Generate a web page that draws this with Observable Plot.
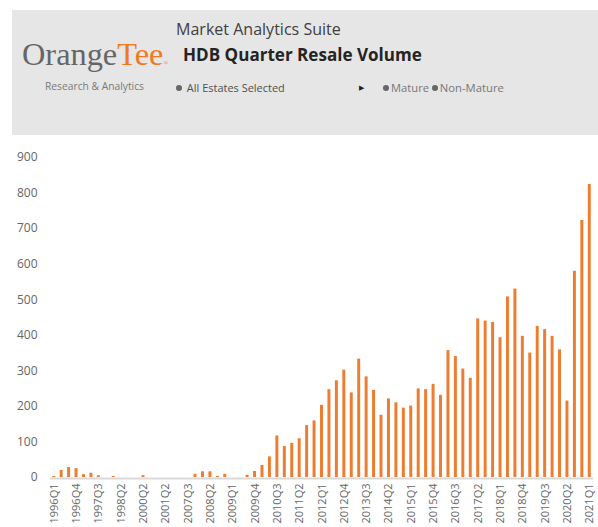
<!DOCTYPE html>
<html>
<head>
<meta charset="utf-8">
<script src="https://cdn.jsdelivr.net/npm/d3@7"></script>
<script src="https://cdn.jsdelivr.net/npm/@observablehq/plot@0.6"></script>
<style>
  html, body { margin: 0; padding: 0; background: #fff; }
  body { width: 598px; height: 527px; overflow: hidden; position: relative; font-family: "Open Sans", sans-serif; }
  #header { position: absolute; left: 12px; top: 10px; width: 586px; height: 125px; background: #e6e6e6; }
  .t { position: absolute; white-space: nowrap; line-height: 1; }
  #logo { left: 22px; top: 38px; font-family: "Liberation Serif", "DejaVu Serif", serif; font-size: 33px; color: #666; }
  #logo .tee { color: #f07a22; }
  #logo .reg { font-size: 6px; color: #f07a22; }
  #research { left: 45px; top: 81px; font-size: 10.5px; color: #7a7a7a; }
  #suite { left: 176px; top: 21px; font-size: 16px; color: #404040; }
  #title { left: 183px; top: 46px; font-size: 17px; font-weight: bold; color: #252423; }
  #estates { left: 176px; top: 82px; font-size: 11px; color: #505050; }
  #arrow { left: 359px; top: 84px; font-size: 7px; color: #222; }
  #mature { left: 383px; top: 82px; font-size: 11px; color: #777; }
  .dot { display: inline-block; width: 6px; height: 6px; border-radius: 50%; background: #666; vertical-align: 1px; margin-right: 2px; }
  #chart { position: absolute; left: 0; top: 140px; }
</style>
</head>
<body>
<div id="header"></div>
<div class="t fit" id="logo" data-w="146">Orange<span class="tee">Tee</span><span class="reg">®</span></div>
<div class="t fit" id="research" data-w="99">Research &amp; Analytics</div>
<div class="t fit" id="suite" data-w="165">Market Analytics Suite</div>
<div class="t fit" id="title" data-w="239">HDB Quarter Resale Volume</div>
<div class="t" id="estates"><span class="dot"></span>&nbsp;<span class="fit" data-w="98">All Estates Selected</span></div>
<div class="t" id="arrow">&#9654;</div>
<div class="t" id="mature"><span class="dot"></span><span class="fit" data-w="38">Mature</span>&nbsp;<span class="dot"></span><span class="fit" data-w="64">Non-Mature</span></div>
<div id="chart"></div>
<script>
const quarters = [
  "1996Q1","1996Q2","1996Q3","1996Q4","1997Q1","1997Q2","1997Q3","1997Q4","1998Q1","1998Q2",
  "1998Q3","1999Q2","2000Q2","2000Q3","2000Q4","2001Q2","2003Q1","2005Q2","2007Q3","2007Q4",
  "2008Q1","2008Q2","2008Q3","2008Q4","2009Q1","2009Q2","2009Q3","2009Q4","2010Q1","2010Q2",
  "2010Q3","2010Q4","2011Q1","2011Q2","2011Q3","2011Q4","2012Q1","2012Q2","2012Q3","2012Q4",
  "2013Q1","2013Q2","2013Q3","2013Q4","2014Q1","2014Q2","2014Q3","2014Q4","2015Q1","2015Q2",
  "2015Q3","2015Q4","2016Q1","2016Q2","2016Q3","2016Q4","2017Q1","2017Q2","2017Q3","2017Q4",
  "2018Q1","2018Q2","2018Q3","2018Q4","2019Q1","2019Q2","2019Q3","2019Q4","2020Q1","2020Q2",
  "2020Q3","2020Q4","2021Q1"
];
const volumes = [
  3, 20, 28, 25, 8, 12, 5, 0, 3, 0,
  0, 0, 5, 0, 0, 0, 0, 0, 0, 9,
  16, 16, 3, 9, 0, 0, 6, 17, 34, 58,
  117, 87, 96, 109, 146, 159, 203, 247, 272, 302,
  238, 333, 283, 245, 175, 221, 210, 195, 201, 249,
  247, 262, 231, 357, 340, 305, 279, 446, 440, 436,
  393, 508, 530, 397, 350, 425, 416, 397, 359, 215,
  580, 723, 824
];
const xTickLabels = ["1996Q1","1996Q4","1997Q3","1998Q2","2000Q2","2001Q2","2007Q3","2008Q2","2009Q1",
  "2009Q4","2010Q3","2011Q2","2012Q1","2012Q4","2013Q3","2014Q2","2015Q1","2015Q4","2016Q3",
  "2017Q2","2018Q1","2018Q4","2019Q3","2020Q2","2021Q1"];
const yTicks = [0, 100, 200, 300, 400, 500, 600, 700, 800, 900];

const data = quarters.map((q, i) => ({q, v: volumes[i]}));

// fit header texts to measured widths
document.querySelectorAll(".fit").forEach(el => {
  const target = +el.dataset.w;
  const fs = parseFloat(getComputedStyle(el).fontSize);
  const w = el.getBoundingClientRect().width;
  if (w > 0) el.style.fontSize = (fs * target / w).toFixed(2) + "px";
});

const chart = Plot.plot({
  width: 598,
  height: 387,
  marginLeft: 50,
  marginRight: 5,
  marginTop: 17,
  marginBottom: 50,
  style: {fontFamily: "'Open Sans', sans-serif", fontSize: "12px", color: "#666", background: "transparent"},
  x: {domain: quarters, paddingInner: 0.6, paddingOuter: 0.3},
  y: {domain: [0, 900]},
  marks: [
    Plot.ruleY([0], {stroke: "#d9d9d9", strokeWidth: 2, dy: 1}),
    Plot.barY(data, {x: "q", y: "v", fill: "#ED7D31"}),
    Plot.axisY({ticks: yTicks, tickSize: 0, tickPadding: 13, label: null, fontSize: 12}),
    Plot.axisX({ticks: xTickLabels, tickSize: 0, tickRotate: -90, tickPadding: 6, label: null, fontSize: 11})
  ]
});
document.getElementById("chart").appendChild(chart);
</script>
</body>
</html>
